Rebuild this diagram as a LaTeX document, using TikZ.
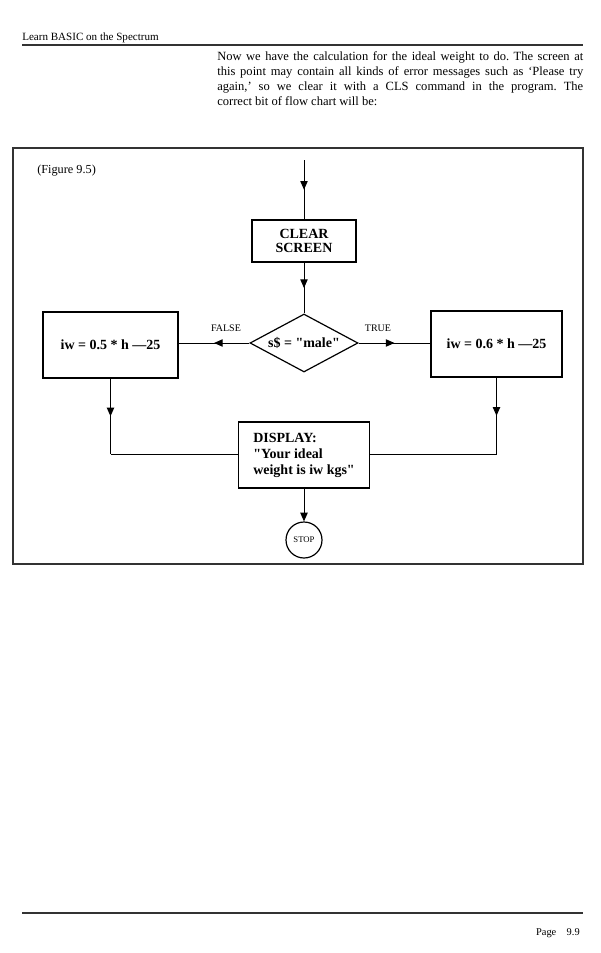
\documentclass[tikz,border=0pt]{standalone}
\usepackage{fontspec}
\setmainfont{Liberation Serif}
\usetikzlibrary{arrows.meta,decorations.markings,shapes.geometric}
\frenchspacing
\begin{document}
\begin{tikzpicture}[x=0.75pt,y=-0.75pt,
  conn/.style={line width=0.75pt},
  midarrow/.style={conn,postaction={decorate},decoration={markings,mark=at position 0.5 with {\arrow{Triangle[length=6.5pt,width=5.5pt]}}}},
  endarrow/.style={conn,-{Triangle[length=6.5pt,width=5.5pt]}},
  box/.style={draw,line width=0.9pt,align=center,inner sep=0pt,font=\bfseries\fontsize{10.5}{11}\selectfont},
  lbl/.style={font=\fontsize{7.5}{9}\selectfont},
  rule/.style={line width=1.1pt,draw=black!80}
]
\useasboundingbox (0,0) rectangle (600,953);
% page header
\node[anchor=base west,font=\fontsize{8.3}{10}\selectfont,inner sep=0pt] (hdr) at (22,40) {Learn BASIC on the Spectrum};
\draw[rule] (22,45) coordinate (h1) -- (583,45) coordinate (h2);
% paragraph
\node[anchor=north west,inner sep=0pt,text width=274.5pt,align=justify,font=\fontsize{9.4}{11.25}\selectfont] (para) at (217,51)
{Now we have the calculation for the ideal weight to do. The screen at\linebreak
this point may contain all kinds of error messages such as `Please try\linebreak
again,' so we clear it with a CLS command in the program. The\linebreak
correct bit of flow chart will be:};
% frame
\draw[rule] (13,148) rectangle (583,564);
\node[anchor=base west,inner sep=0pt,font=\fontsize{9.2}{11}\selectfont] (fig) at (37,173) {(Figure 9.5)};
% flowchart
\node[box,minimum width=78pt,minimum height=31.5pt] (clr) at (304,241) {CLEAR\\SCREEN};
\coordinate (start) at (clr.north |- 0,160);
\node[diamond,draw,line width=0.9pt,minimum width=81pt,minimum height=43.5pt,inner sep=0pt] (d) at (304,343) {};
\node[font=\bfseries\fontsize{10.5}{11}\selectfont,inner sep=0pt] (dt) at (d.center) {s\$ = \textquotedbl male\textquotedbl};
\node[box,minimum width=101.25pt,minimum height=49.5pt] (lb) at (110.5,345) {iw = 0.5 * h —25};
\node[box,minimum width=98.25pt,minimum height=49.5pt] (rb) at (496.5,344) {iw = 0.6 * h —25};
\node[box,minimum width=98.25pt,minimum height=49.5pt,align=left,font=\bfseries\fontsize{10.5}{12}\selectfont] (disp) at (304,455) {DISPLAY:\\\textquotedbl Your ideal\\weight is iw kgs\textquotedbl};
\node[circle,draw,line width=0.9pt,minimum size=27pt,inner sep=0pt,font=\fontsize{6.5}{7}\selectfont] (stop) at (304,540) {STOP};
\node[lbl] (fl) at (226,328) {FALSE};
\node[lbl] (tl) at (378,328) {TRUE};
% connectors
\draw[midarrow] (start) -- (clr.north);
\draw[midarrow] (clr.south) -- (d.north);
\draw[midarrow] (d.west) -- (d.west -| lb.east);
\draw[midarrow] (d.east) -- (d.east -| rb.west);
\coordinate (lc) at (lb.south |- 0,454);
\coordinate (rc) at (rb.south |- 0,454);
\draw[midarrow] (lb.south) -- (lc);
\draw[conn] (lc) -- (lc -| disp.west);
\draw[midarrow] (rb.south) -- (rc);
\draw[conn] (rc) -- (rc -| disp.east);
\draw[endarrow] (disp.south) -- (stop.north);
% footer
\draw[rule] (22,913) coordinate (f1) -- (583,913) coordinate (f2);
\node[anchor=base east,inner sep=0pt,font=\fontsize{7.8}{9}\selectfont] (pg) at (580,935) {Page\quad 9.9};
\end{tikzpicture}
\end{document}
